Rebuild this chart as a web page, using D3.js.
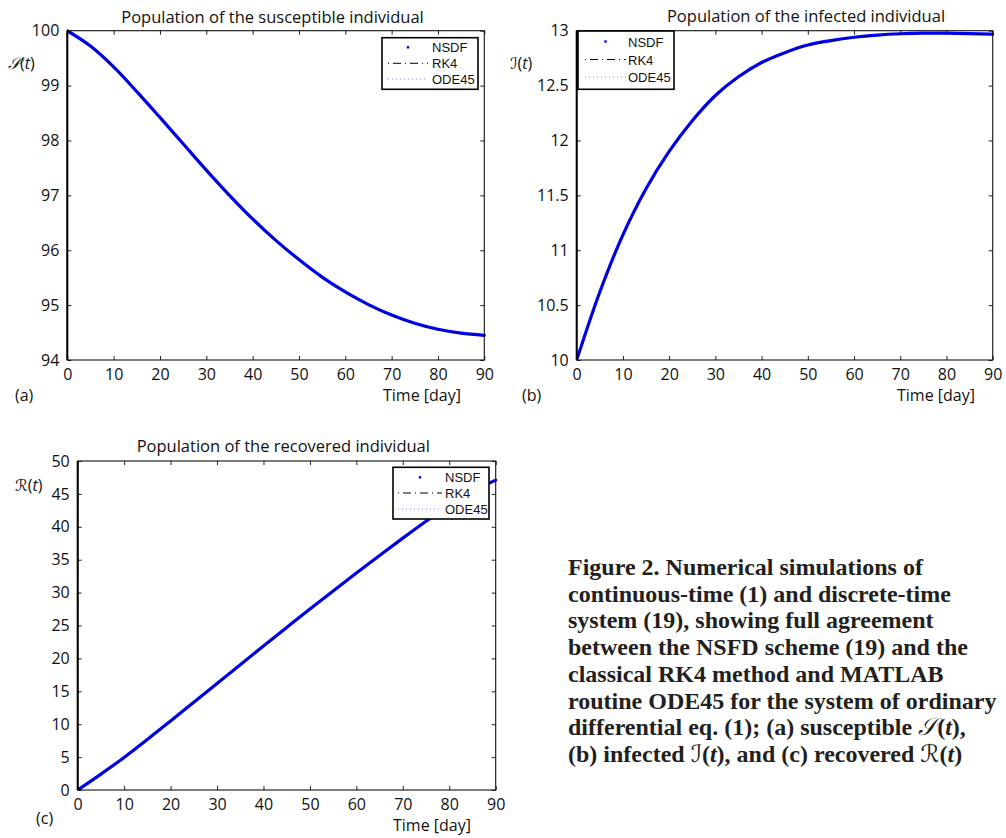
<!DOCTYPE html>
<html>
<head>
<meta charset="utf-8">
<script src="https://cdn.jsdelivr.net/npm/d3@7"></script>
<style>
  html, body { margin: 0; padding: 0; background: #fff; }
  svg { display: block; }
  .tick text { font-family: "Open Sans", sans-serif; font-size: 16px; fill: #111; }
</style>
</head>
<body>
<svg id="chart" width="1006" height="838"></svg>
<script>
// ---------------- data ----------------
const days = [0, 5, 10, 15, 20, 25, 30, 35, 40, 45, 50, 55, 60, 65, 70, 75, 80, 85, 90];
const susceptible = [100, 99.72, 99.34, 98.89, 98.42, 97.94, 97.46, 97.00, 96.57, 96.18, 95.83, 95.51, 95.24, 95.01, 94.82, 94.67, 94.56, 94.49, 94.45];
const infected = [10, 10.62, 11.14, 11.56, 11.90, 12.18, 12.41, 12.58, 12.71, 12.80, 12.87, 12.91, 12.94, 12.96, 12.972, 12.978, 12.978, 12.974, 12.968];
const recovered = [0, 2.42, 4.95, 7.68, 10.50, 13.35, 16.20, 19.05, 21.88, 24.70, 27.50, 30.25, 32.97, 35.65, 38.28, 40.85, 43.30, 45.40, 47.10];
const xTicks = [0, 10, 20, 30, 40, 50, 60, 70, 80, 90];
const sTicks = [94, 95, 96, 97, 98, 99, 100];
const iTicks = [10, 10.5, 11, 11.5, 12, 12.5, 13];
const rTicks = [0, 5, 10, 15, 20, 25, 30, 35, 40, 45, 50];
const seriesNames = ["NSDF", "RK4", "ODE45"];
const titles = ["Population of the susceptible individual", "Population of the infected individual", "Population of the recovered individual"];
const yLabels = [["\u{1D4AE}", "(", "t", ")"], ["\u2110", "(", "t", ")"], ["\u211B", "(", "t", ")"]];
const panelTags = ["(a)", "(b)", "(c)"];
const xLabel = "Time [day]";

// ---------------- layout ----------------
const panels = [
  { values: susceptible, ticks: sTicks, domain: [94, 100], fmt: d3.format("d"),
    box: { l: 67.3, r: 484.3, t: 30.7, b: 360 },
    titleX: 272.5, titleY: 22.7,
    ylab: { x: 8, y: 69 }, tag: { x: 15, y: 401 }, xl: { x: 383, y: 401 },
    legend: { x: 382, y: 37.7, w: 96, h: 51.6, lineX0: 388, lineX1: 428, textX: 432, rows: [52.3, 68.3, 84] } },
  { values: infected, ticks: iTicks, domain: [10, 13], fmt: d => (d % 1 === 0 ? d3.format("d")(d) : d3.format(".1f")(d)),
    box: { l: 576.7, r: 992.7, t: 30.7, b: 360 },
    titleX: 806, titleY: 21.5,
    ylab: { x: 510, y: 69 }, tag: { x: 522, y: 401 }, xl: { x: 897, y: 401 },
    legend: { x: 578, y: 31, w: 96, h: 58.3, lineX0: 585, lineX1: 626, textX: 628, rows: [46.5, 64.5, 82] } },
  { values: recovered, ticks: rTicks, domain: [0, 50], fmt: d3.format("d"),
    box: { l: 77.7, r: 495.7, t: 461, b: 790 },
    titleX: 283.3, titleY: 451.5,
    ylab: { x: 15, y: 491 }, tag: { x: 36, y: 824 }, xl: { x: 393, y: 831 },
    legend: { x: 393, y: 467.3, w: 96, h: 51.7, lineX0: 398, lineX1: 442, textX: 445, rows: [482.3, 498, 514] } }
];

const svg = d3.select("#chart");
const FONT = "'Open Sans', sans-serif";
const LEGEND_FONT = "'Liberation Sans', Arial, sans-serif";

panels.forEach((p, i) => {
  const g = svg.append("g");
  const x = d3.scaleLinear().domain([0, 90]).range([p.box.l, p.box.r]);
  const y = d3.scaleLinear().domain(p.domain).range([p.box.b, p.box.t]);

  const clipId = "clip" + i;
  svg.append("clipPath").attr("id", clipId).append("rect")
    .attr("x", p.box.l).attr("y", p.box.t - 2)
    .attr("width", p.box.r - p.box.l + 2).attr("height", p.box.b - p.box.t + 2);

  // axes (inward ticks, MATLAB box style)
  const bottom = g.append("g").attr("transform", `translate(0,${p.box.b})`)
    .call(d3.axisBottom(x).tickValues(xTicks).tickSizeInner(-4).tickSizeOuter(0).tickPadding(9).tickFormat(d3.format("d")));
  const top = g.append("g").attr("transform", `translate(0,${p.box.t})`)
    .call(d3.axisTop(x).tickValues(xTicks).tickSizeInner(-4).tickSizeOuter(0).tickFormat(""));
  const left = g.append("g").attr("transform", `translate(${p.box.l},0)`)
    .call(d3.axisLeft(y).tickValues(p.ticks).tickSizeInner(-4).tickSizeOuter(0).tickPadding(8).tickFormat(p.fmt));
  const right = g.append("g").attr("transform", `translate(${p.box.r},0)`)
    .call(d3.axisRight(y).tickValues(p.ticks).tickSizeInner(-4).tickSizeOuter(0).tickFormat(""));
  [bottom, top, left, right].forEach(a => {
    a.select(".domain").remove();
    a.selectAll(".tick line").attr("stroke", "#222").attr("stroke-width", 1);
  });

  // curves
  const line = d3.line().x((d, k) => x(days[k])).y(d => y(d)).curve(d3.curveCatmullRom.alpha(0.5));
  const cg = g.append("g").attr("clip-path", `url(#${clipId})`);
  cg.append("path").datum(p.values).attr("d", line).attr("fill", "none")
    .attr("stroke", "#7f7fff").attr("stroke-width", 1).attr("stroke-dasharray", "1,3");
  cg.append("path").datum(p.values).attr("d", line).attr("fill", "none")
    .attr("stroke", "#0000ff").attr("stroke-width", 3.2).attr("stroke-linecap", "round");
  cg.append("path").datum(p.values).attr("d", line).attr("fill", "none")
    .attr("stroke", "#000").attr("stroke-opacity", 0.45).attr("stroke-width", 1.2)
    .attr("stroke-dasharray", "8,3,2,3").attr("transform", "translate(0,0.6)");

  // frame
  g.append("rect").attr("x", p.box.l).attr("y", p.box.t)
    .attr("width", p.box.r - p.box.l).attr("height", p.box.b - p.box.t)
    .attr("fill", "none").attr("stroke", "#111").attr("stroke-width", 1.1);
  g.append("line").attr("x1", p.box.l).attr("x2", p.box.l).attr("y1", p.box.t).attr("y2", p.box.b)
    .attr("stroke", "#000").attr("stroke-width", 2);

  // title
  g.append("text").attr("x", p.titleX).attr("y", p.titleY).attr("text-anchor", "middle")
    .attr("font-family", FONT).attr("font-size", 16.5).attr("fill", "#111").text(titles[i]);

  // y label
  const yl = g.append("text").attr("x", p.ylab.x).attr("y", p.ylab.y)
    .attr("font-family", FONT).attr("font-size", 16).attr("fill", "#111");
  yl.append("tspan").attr("font-family", "'DejaVu Serif', 'DejaVu Sans', serif").attr("font-style", "italic").text(yLabels[i][0]);
  yl.append("tspan").text(yLabels[i][1]);
  yl.append("tspan").attr("font-style", "italic").text(yLabels[i][2]);
  yl.append("tspan").text(yLabels[i][3]);

  // panel tag & x label
  g.append("text").attr("x", p.tag.x).attr("y", p.tag.y).attr("font-family", FONT)
    .attr("font-size", 16).attr("fill", "#111").text(panelTags[i]);
  g.append("text").attr("x", p.xl.x).attr("y", p.xl.y).attr("font-family", FONT)
    .attr("font-size", 16).attr("fill", "#111").text(xLabel);

  // legend
  const L = p.legend;
  const lg = g.append("g");
  lg.append("rect").attr("x", L.x).attr("y", L.y).attr("width", L.w).attr("height", L.h)
    .attr("fill", "#fff").attr("stroke", "#000").attr("stroke-width", 1.6);
  seriesNames.forEach((name, k) => {
    const ry = L.rows[k] - 5;
    if (k === 0) {
      lg.append("rect").attr("x", (L.lineX0 + L.lineX1) / 2 - 1.2).attr("y", ry - 1.2)
        .attr("width", 2.4).attr("height", 2.4).attr("fill", "#0000ff");
    } else if (k === 1) {
      lg.append("line").attr("x1", L.lineX0).attr("x2", L.lineX1).attr("y1", ry).attr("y2", ry)
        .attr("stroke", "#000").attr("stroke-width", 1).attr("stroke-dasharray", "1,4,8,4");
    } else {
      lg.append("line").attr("x1", L.lineX0).attr("x2", L.lineX1).attr("y1", ry).attr("y2", ry)
        .attr("stroke", "#8080ff").attr("stroke-width", 1).attr("stroke-dasharray", "1,3");
    }
    lg.append("text").attr("x", L.textX).attr("y", L.rows[k]).attr("font-family", LEGEND_FONT)
      .attr("font-size", 13).attr("fill", "#111").text(name);
  });
});

// ---------------- caption ----------------
const captionLines = [
  [["Figure 2. Numerical simulations of", 0]],
  [["continuous-time (1) and discrete-time", 0]],
  [["system (19), showing full agreement", 0]],
  [["between the NSFD scheme (19) and the", 0]],
  [["classical RK4 method and MATLAB", 0]],
  [["routine ODE45 for the system of ordinary", 0]],
  [["differential eq. (1); (a) susceptible ", 0], ["\u{1D4AE}", 2], ["(", 0], ["t", 1], ["),", 0]],
  [["(b) infected ", 0], ["\u2110", 2], ["(", 0], ["t", 1], ["), and (c) recovered ", 0], ["\u211B", 2], ["(", 0], ["t", 1], [")", 0]]
];
const cap = svg.append("g");
captionLines.forEach((parts, k) => {
  const t = cap.append("text").attr("x", 568).attr("y", 575 + k * 26.7)
    .attr("font-family", "'Liberation Serif', 'Times New Roman', serif")
    .attr("font-weight", "bold").attr("font-size", 24).attr("fill", "#231f20");
  parts.forEach(([s, kind]) => {
    const ts = t.append("tspan").text(s);
    if (kind === 1) ts.attr("font-style", "italic");
    if (kind === 2) ts.attr("font-family", "'DejaVu Serif', 'DejaVu Sans', serif").attr("font-style", "italic").attr("font-weight", "normal");
  });
});
</script>
</body>
</html>
